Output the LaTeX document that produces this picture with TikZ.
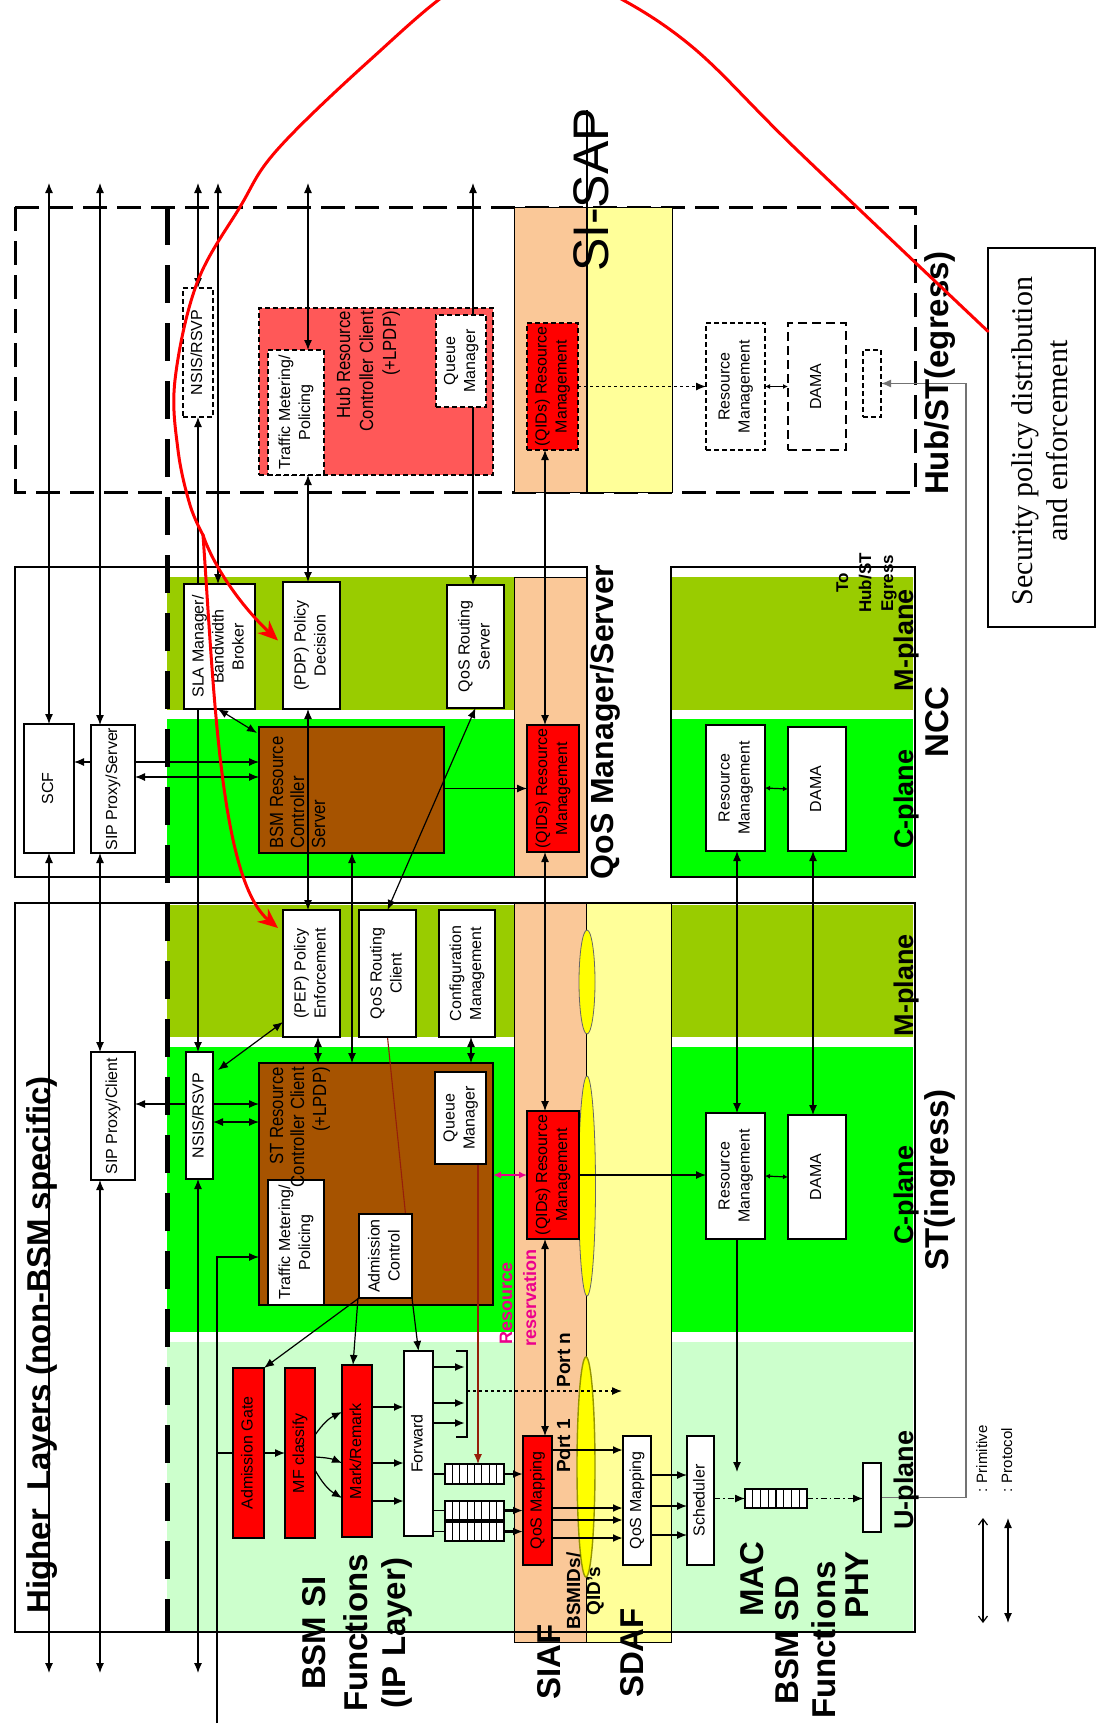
\documentclass[tikz,border=0pt]{standalone}
\usepackage{fontspec}
\setmainfont{Liberation Sans}
\newfontfamily\serifface{Liberation Serif}
\newfontfamily\narrowface[FakeStretch=0.88]{Liberation Sans}
\usepackage{graphicx}
\usetikzlibrary{arrows.meta,calc}
\pgfdeclarelayer{background}
\pgfdeclarelayer{links}
\pgfdeclarelayer{overlay}
\pgfsetlayers{background,links,main,overlay}

\definecolor{mplanec}{RGB}{153,204,0}
\definecolor{cplanec}{RGB}{0,255,0}
\definecolor{uplanec}{RGB}{204,255,204}
\definecolor{siafc}{RGB}{250,200,152}
\definecolor{sdafc}{RGB}{255,255,153}
\definecolor{brownc}{RGB}{166,83,0}
\definecolor{hubredc}{RGB}{255,88,88}
\definecolor{ellc}{RGB}{255,255,0}

\newcommand\bxfont{\fontsize{16}{20}\selectfont}
% box with rotated text: name, x1, y1, x2, y2, text
\newcommand\boxnode[7][]{%
  \pgfmathsetmacro\bxw{#5-#3}%
  \pgfmathsetmacro\bxh{#6-#4}%
  \node[box,#1,minimum width=\bxw pt,minimum height=\bxh pt] (#2)
    at ({(#3+#5)/2},{(#4+#6)/2})
    {\rotatebox{90}{\begin{tabular}{@{}c@{}}#7\end{tabular}}};}
% box without text
\newcommand\emptynode[6][]{%
  \pgfmathsetmacro\bxw{#5-#3}%
  \pgfmathsetmacro\bxh{#6-#4}%
  \node[box,#1,minimum width=\bxw pt,minimum height=\bxh pt] (#2)
    at ({(#3+#5)/2},{(#4+#6)/2}) {};}

\tikzset{
  box/.style={draw, line width=1.5pt, fill=white, inner sep=0pt, outer sep=0pt, font=\bxfont},
  hbox/.style={line width=1.1pt, dash pattern=on 5pt off 3pt},
  qbox/.style={line width=1.3pt},
  brownbox/.style={fill=brownc, line width=1.5pt},
  big/.style={rotate=90, inner sep=0pt, anchor=base, font=\fontsize{33}{40}\selectfont\bfseries},
  planelab/.style={rotate=90, inner sep=0pt, anchor=base, font=\fontsize{27}{30}\selectfont\bfseries},
  smallbold/.style={rotate=90, inner sep=0pt, anchor=base, font=\fontsize{19}{22}\selectfont\bfseries},
  inlab/.style={rotate=90, inner sep=0pt, font=\narrowface\fontsize{19}{22}\selectfont},
  lk/.style={line width=1.2pt},
  thk/.style={line width=2.2pt},
  rline/.style={line width=1.1pt, draw={rgb,255:red,150;green,30;blue,10}},
  redc/.style={draw=red, line width=3pt, line cap=round},
  small/.style={>={Latex[length=5pt,width=5pt]}},
  dashdot/.style={dash pattern=on 6pt off 3pt on 1.5pt off 3pt},
}

\begin{document}
\begin{tikzpicture}[x=1pt,y=-1pt,>={Latex[length=10pt,width=8pt]}]
\useasboundingbox (0,0) rectangle (1096,1726);

\begin{pgfonlayer}{background}
\fill[white] (0,0) rectangle (1096,1726);
% Hub/ST egress frame
\draw[line width=3pt, dash pattern=on 24pt off 10pt] (15,207) rectangle (915,492);
% planes
\fill[mplanec] (167,577) rectangle (514,710);
\fill[cplanec] (167,719) rectangle (514,877);
\fill[mplanec] (671,577) rectangle (913,710);
\fill[cplanec] (671,719) rectangle (913,877);
\fill[mplanec] (167,905) rectangle (913,1037);
\fill[cplanec] (167,1047) rectangle (913,1332);
\fill[uplanec] (167,1342) rectangle (913,1632);
% SIAF / SDAF columns
\filldraw[fill=siafc, line width=0.8pt] (514,207) rectangle (586,492);
\filldraw[fill=sdafc, line width=0.8pt] (586,207) rectangle (672,492);
\filldraw[fill=siafc, line width=0.8pt] (514,577) rectangle (586,877);
\filldraw[fill=siafc, line width=0.8pt] (514,903) rectangle (586,1642);
\filldraw[fill=sdafc, line width=0.8pt] (586,903) rectangle (671,1642);
% frames
\draw[line width=2pt] (15,567) rectangle (587,877);
\draw[line width=2pt] (671,567) rectangle (915,877);
\draw[line width=2pt] (15,903) rectangle (915,1632);
\draw[line width=5pt, dash pattern=on 38pt off 20pt] (167,207) -- (167,1632);
% SI-SAP
\draw[line width=2pt] (587,110) -- (587,492);
% ellipses on SI-SAP
\filldraw[fill=ellc, draw=black!60, line width=0.8pt] (587,982) ellipse [x radius=8, y radius=52];
\filldraw[fill=ellc, draw=black!60, line width=0.8pt] (587,1186) ellipse [x radius=8.5, y radius=110];
\filldraw[fill=ellc, draw={rgb,255:red,150;green,150;blue,0}, line width=1.4pt] (586,1467) ellipse [x radius=9, y radius=110];
% large functional blocks
\emptynode[hbox,fill=hubredc]{hrcc}{259}{308}{493}{475}
\emptynode[brownbox]{bsmrcs}{259}{727}{444}{853}
\emptynode[brownbox]{strcc}{259}{1063}{493}{1305}
\end{pgfonlayer}

% ---------- Hub ----------
\boxnode[hbox]{hnsis}{183}{288}{213}{417}{NSIS/RSVP}
\boxnode[hbox]{htm}{268}{350}{324}{475}{Traffic Metering/\\Policing}
\boxnode[hbox]{hqm}{436}{315}{486}{407}{Queue\\Manager}
\boxnode[hbox,fill=red]{hqids}{527}{323}{578}{450}{(QIDs) Resource\\Management}
\boxnode[hbox]{hrm}{706}{323}{765}{450}{Resource\\Management}
\boxnode[line width=2.2pt,dash pattern=on 9pt off 5pt]{hdama}{788}{323}{846}{450}{DAMA}
\emptynode[hbox]{hphy}{863}{350}{881}{417}
% ---------- NCC ----------
\boxnode{sla}{184}{584}{255}{709}{SLA Manager/\\Bandwidth\\Broker}
\boxnode{pdp}{283}{582}{340}{709}{(PDP) Policy\\Decision}
\boxnode{qrs}{447}{585}{504}{708}{QoS Routing\\Server}
\boxnode[fill=red]{nqids}{527}{725}{579}{852}{(QIDs) Resource\\Management}
\boxnode{scf}{24}{724}{74}{853}{SCF}
\boxnode{sipserv}{91}{725}{135}{853}{SIP Proxy/Server}
\boxnode{nrm}{706}{725}{765}{851}{Resource\\Management}
\boxnode{ndama}{788}{727}{846}{851}{DAMA}
% ---------- ST ----------
\boxnode{sipcli}{91}{1052}{135}{1180}{SIP Proxy/Client}
\boxnode{snsis}{186}{1052}{213}{1179}{NSIS/RSVP}
\boxnode{pep}{283}{910}{340}{1037}{(PEP) Policy\\Enforcement}
\boxnode{qrc}{359}{910}{416}{1037}{QoS Routing\\Client}
\boxnode{cfg}{439}{910}{495}{1037}{Configuration\\Management}
\boxnode{stm}{268}{1180}{324}{1305}{Traffic Metering/\\Policing}
\boxnode{adc}{359}{1214}{412}{1298}{Admission\\Control}
\boxnode{sqm}{435}{1072}{486}{1164}{Queue\\Manager}
\boxnode[fill=red]{sqids}{527}{1111}{579}{1239}{(QIDs) Resource\\Management}
\boxnode{srm}{706}{1113}{765}{1239}{Resource\\Management}
\boxnode{sdama}{788}{1115}{846}{1239}{DAMA}
% U-plane
\boxnode[fill=red]{ag}{233}{1368}{264}{1538}{Admission Gate}
\boxnode[fill=red]{mf}{285}{1368}{315}{1538}{MF classify}
\boxnode[fill=red]{mark}{342}{1365}{372}{1537}{Mark/Remark}
\boxnode{fwd}{404}{1351}{433}{1536}{Forward}
\emptynode[qbox]{q1}{445}{1464}{504}{1484}
\emptynode[qbox]{q2}{445}{1501}{504}{1520}
\emptynode[qbox]{q3}{445}{1522}{504}{1541}
\boxnode[fill=red]{qmap1}{523}{1436}{552}{1565}{QoS Mapping}
\boxnode{qmap2}{623}{1436}{651}{1565}{QoS Mapping}
\boxnode{sched}{687}{1436}{714}{1565}{Scheduler}
\emptynode[qbox]{mq}{745}{1489}{807}{1508}
\emptynode{phy}{863}{1463}{881}{1532}
\foreach \q in {q1,q2,q3,mq}{
  \foreach \i in {1,...,7}{
    \draw[line width=1.1pt] ($(\q.north west)!\i/8!(\q.north east)$) -- ($(\q.south west)!\i/8!(\q.south east)$);
  }
}
% security policy box
\emptynode[line width=1.3pt]{sec}{988}{248}{1095}{627}
\node[rotate=90, inner sep=0pt, anchor=base, font=\serifface\fontsize{30}{36}\selectfont] (sec1) at (1032,441) {Security policy distribution};
\node[rotate=90, inner sep=0pt, anchor=base, font=\serifface\fontsize{30}{36}\selectfont] (sec2) at (1067,441) {and enforcement};

% labels inside large blocks
\node[inlab, anchor=base east] (hr1) at (350,311) {Hub Resource};
\node[inlab, anchor=base east] (hr2) at (373,311) {Controller Client};
\node[inlab, anchor=base east] (hr3) at (396,311) {(+LPDP)};
\node[inlab, anchor=base west] (br1) at (283,849) {BSM Resource};
\node[inlab, anchor=base west] (br2) at (304,849) {Controller};
\node[inlab, anchor=base west] (br3) at (325,849) {Server};
\node[inlab, anchor=base east] (sr1) at (283,1067) {ST Resource};
\node[inlab, anchor=base east] (sr2) at (304,1067) {Controller Client};
\node[inlab, anchor=base east] (sr3) at (326,1067) {(+LPDP)};

% region labels
\node[rotate=90, inner sep=0pt, anchor=base, font=\fontsize{50}{56}\selectfont] (lsisap) at (608,190) {SI-SAP};
\node[big] (lhub) at (948,373) {Hub/ST(egress)};
\node[big] (lncc) at (948,722) {NCC};
\node[big] (lst) at (948,1180) {ST(ingress)};
\node[big, font=\fontsize{32}{38}\selectfont\bfseries] (lqos) at (613,722) {QoS Manager/Server};
\node[planelab] (lm1) at (913,640) {M-plane};
\node[planelab] (lc1) at (913,799) {C-plane};
\node[planelab] (lm2) at (913,985) {M-plane};
\node[planelab] (lc2) at (913,1195) {C-plane};
\node[planelab] (lu) at (913,1480) {U-plane};
\node[big] (lhl) at (50,1345) {Higher\ \ Layers (non-BSM specific)};
\node[big] (lsi1) at (325,1633) {BSM SI};
\node[big] (lsi2) at (367,1633) {Functions};
\node[big] (lsi3) at (405,1633) {(IP Layer)};
\node[big] (lsiaf) at (560,1662) {SIAF};
\node[big] (lsdaf) at (643,1653) {SDAF};
\node[big] (lmac) at (763,1579) {MAC};
\node[big] (lsd1) at (798,1640) {BSM SD};
\node[big] (lsd2) at (835,1640) {Functions};
\node[big] (lphy) at (868,1585) {PHY};
\node[smallbold] (lbid1) at (580,1591) {BSMIDs/};
\node[smallbold] (lbid2) at (600,1591) {QID's};
\node[smallbold] (lp1) at (570,1446) {Port 1};
\node[smallbold] (lpn) at (570,1360) {Port n};
\node[smallbold, anchor=base west, text=magenta, font=\fontsize{18}{20}\selectfont\bfseries] (lres1) at (512,1345) {Resource};
\node[smallbold, anchor=base west, text=magenta, font=\fontsize{18}{20}\selectfont\bfseries] (lres2) at (536,1347) {reservation};
\node[smallbold, font=\fontsize{17}{20}\selectfont\bfseries] (lto1) at (848,583) {To};
\node[smallbold, font=\fontsize{17}{20}\selectfont\bfseries] (lto2) at (871,583) {Hub/ST};
\node[smallbold, font=\fontsize{17}{20}\selectfont\bfseries] (lto3) at (893,583) {Egress};
\node[rotate=90, inner sep=0pt, anchor=base west, font=\fontsize{15}{18}\selectfont] (lgp1) at (987,1493) {: Primitive};
\node[rotate=90, inner sep=0pt, anchor=base west, font=\fontsize{15}{18}\selectfont] (lgp2) at (1012,1493) {: Protocol};

% ---------- connectors ----------
\begin{pgfonlayer}{links}
\coordinate (t49) at (49,183);   \coordinate (b49) at (49,1673);
\coordinate (t100) at (100,183); \coordinate (b100) at (100,1673);
\coordinate (t198) at (198,183); \coordinate (b198) at (198,1673);
\coordinate (t218) at (218,183); \coordinate (b217) at (217,1723);
\coordinate (t308) at (308,183); \coordinate (t473) at (473,183);
\coordinate (x545) at (545,0); \coordinate (x737) at (737,0); \coordinate (x813) at (813,0);
\coordinate (x318) at (318,0); \coordinate (x352) at (352,0); \coordinate (x471) at (471,0);
\coordinate (x478) at (478,0); \coordinate (gx) at (966,0);
\foreach \v in {762,777,1104,1122,1257,1367,1403,1423,1391,1407,1463,1501,1450,1508,1520,1538,1475,1506,1535}{
  \coordinate (y\v) at (0,\v);
}
\coordinate (brT) at (467,1351); \coordinate (brB) at (467,1437);
\coordinate (portn) at (622,1391);
\coordinate (lga) at (983,1518); \coordinate (lgb) at (983,1623);
\coordinate (lgc) at (1008,1518); \coordinate (lgd) at (1008,1623);

% long vertical links
\draw[lk,<->] (t49) -- (scf.north);
\draw[lk,<->] (scf.south) -- (b49);
\draw[lk,<->] (t100) -- (t100 |- sipserv.north);
\draw[lk,<->] (t100 |- sipserv.south) -- (t100 |- sipcli.north);
\draw[lk,<->] (t100 |- sipcli.south) -- (b100);
\draw[lk,<->] (t198) -- (t198 |- hnsis.north);
\draw[lk,<->] (t198 |- hnsis.south) -- (t198 |- snsis.north);
\draw[lk,<->] (t198 |- snsis.south) -- (b198);
\draw[lk,<->] (t218) -- (t218 |- sla.north);
\draw[lk,<->] (t308) -- (t308 |- htm.north);
\draw[lk,<->] (t308 |- htm.south) -- (t308 |- pdp.north);
\draw[lk,<->] (t308 |- pdp.south) -- (t308 |- pep.north);
\draw[lk,<->] (t473) -- (t473 |- qrs.north);
\draw[lk,<->] (x545 |- hqids.south) -- (x545 |- nqids.north);
\draw[lk,<->] (x545 |- nqids.south) -- (x545 |- sqids.north);
\draw[lk,<->] (x545 |- sqids.south) -- (x545 |- qmap1.north);
\draw[lk,<->] (x737 |- nrm.south) -- (x737 |- srm.north);
\draw[lk,->] (x737 |- srm.south) -- ($(x737 |- mq.north)+(0,-17)$);
\draw[lk,<->] (x813 |- ndama.south) -- (x813 |- sdama.north);

% resource management links
\draw[lk,->,dashed] (hqids.east) -- (hrm.west);
\draw[lk,small,<->] (hrm.east) -- (hdama.west);
\draw[lk,small,<->] (nrm.east) -- (ndama.west);
\draw[lk,small,<->] (srm.east) -- (sdama.west);
\draw[lk,->] (sqids.east) -- (srm.west |- sqids.east);
\draw[line width=1.6pt,magenta,<->,>={Latex[length=8pt,width=7pt]}] (sqids.west -| strcc.east) -- (sqids.west);
\draw[lk,->] (nqids.west -| bsmrcs.east) -- (nqids.west);

% NCC signalling
\draw[lk,<->] (t218 |- sla.south) -- ($(bsmrcs.north west)+(-2,6)$);
\draw[lk,->] (sipserv.east |- y762) -- (bsmrcs.west |- y762);
\draw[lk,->] (sipserv.west |- y762) -- (scf.east |- y762);
\draw[lk,<->] (sipserv.east |- y777) -- (bsmrcs.west |- y777);
\draw[lk,<->] (qrc.north) -- (qrs.south);
\draw[lk,<->] (x352 |- bsmrcs.south) -- (x352 |- strcc.north);

% ST signalling
\draw[lk,<->] (sipcli.east |- y1104) -- (strcc.west |- y1104);
\draw[lk,<->] (snsis.east |- y1122) -- (strcc.west |- y1122);
\draw[lk,<->] ($(snsis.north east)+(5,18)$) -- ($(pep.south west)+(0,-15)$);
\draw[lk,<->] (x318 |- pep.south) -- (x318 |- strcc.north);
\draw[lk,<->] (x471 |- cfg.south) -- (x471 |- strcc.north);
\draw[rline] (qrc.south) -- ($(adc.north)+(20,0)$);
\draw[rline,->] (x478 |- sqm.south) -- (x478 |- q1.north);

% user plane
\draw[lk,->] (b217) |- (strcc.west |- y1257);
\draw[lk] (ag.west -| b217) -- (ag.west);
\draw[lk,->] (adc.south west) -- (ag.north east);
\draw[lk,->] ($(adc.south west)+(-1,0)$) -- ($(mark.north)+(-4,0)$);
\draw[lk,->] (adc.south east) -- (fwd.north);
\draw[lk,->] (ag.east) -- (mf.west);
\draw[lk,->] ($(mf.east)+(0,-18)$) to[bend left=15] ($(mark.west)+(0,-39)$);
\draw[lk,->] ($(mf.east)+(0,4)$) to[bend left=10] ($(mark.west)+(0,12)$);
\draw[lk,->] ($(mf.east)+(0,17)$) to[bend right=15] ($(mark.west)+(0,47)$);
\foreach \v in {1407,1463,1501}{
  \draw[thk,->] (mark.east |- y\v) -- (fwd.west |- y\v);
}
\foreach \v in {1367,1403,1423}{
  \draw[thk,->] (fwd.east |- y\v) -- ($(brT |- y\v)+(-2,0)$);
}
\draw[lk] ($(brT)+(-11,0)$) -- (brT) -- (brB) -- ++(-11,0);
\draw[lk,dashed,->] (brT |- y1391) -- (portn);
\foreach \q in {q1,q2,q3}{
  \draw[lk] (fwd.east |- \q.west) -- (\q.west);
  \draw[thk,->] (\q.east) -- (qmap1.west |- \q.east);
}
\foreach \v in {1450,1508,1520,1538}{
  \draw[thk,->] (qmap1.east |- y\v) -- (qmap2.west |- y\v);
}
\foreach \v in {1475,1506,1535}{
  \draw[lk,->] (qmap2.east |- y\v) -- (sched.west |- y\v);
}
\draw[lk,dashdot,->] (sched.east |- mq.west) -- (mq.west);
\draw[lk,dashdot,->] (mq.east) -- (phy.west |- mq.east);
\draw[line width=1.5pt, draw=black!55, ->] (phy.center) -- (phy.center -| gx) -- (hphy.east -| gx) -- (hphy.east);

% legend
\draw[lk,{Straight Barb[length=6pt,width=9pt]}-{Straight Barb[length=6pt,width=9pt]}] (lga) -- (lgb);
\draw[lk,<->] (lgc) -- (lgd);
\end{pgfonlayer}

% security policy distribution path
\begin{pgfonlayer}{overlay}
\coordinate (c0) at ($(sec.north west)!0.22!(sec.south west)$);
\coordinate (rsplit) at (203,535);
\draw[redc] plot[smooth, tension=0.6] coordinates {(c0) (797,150) (690,45) (600,-12) (530,-35) (460,-15) (370,60) (277,150) (240,207) (197,283) (175,380) (178,450) (190,505) (rsplit)};
\draw[redc,-{Stealth[length=20pt,width=17pt]}] (rsplit) .. controls (213,565) and (240,605) .. ($(pdp.west)+(-5,-5)$);
\draw[redc,-{Stealth[length=20pt,width=17pt]}] (rsplit) .. controls (214,690) and (220,880) .. ($(pep.north west)+(-5,18)$);
\end{pgfonlayer}
\end{tikzpicture}
\end{document}
